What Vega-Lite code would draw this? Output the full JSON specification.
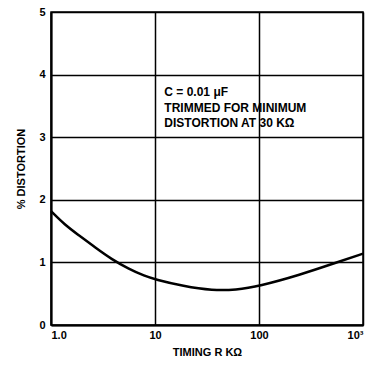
{
  "$schema": "https://vega.github.io/schema/vega-lite/v6.json",
  "width": 312,
  "height": 313,
  "autosize": {"type": "none"},
  "padding": {"left": 51, "top": 12, "right": 10, "bottom": 42},
  "background": "white",
  "config": {
    "view": {"stroke": "black", "strokeWidth": 1.5},
    "font": "Liberation Sans",
    "axis": {
      "domainColor": "black", "domainWidth": 2,
      "gridColor": "black", "gridWidth": 1.5, "gridOpacity": 1,
      "ticks": false,
      "labelFont": "Liberation Sans", "labelFontWeight": "bold", "labelFontSize": 11, "labelColor": "black",
      "titleFont": "Liberation Sans", "titleFontWeight": "bold", "titleFontSize": 11, "titleColor": "black"
    }
  },
  "datasets": {
    "curve": [
      {"r": 1, "d": 1.82},
      {"r": 1.36, "d": 1.6},
      {"r": 1.83, "d": 1.44},
      {"r": 2.65, "d": 1.24},
      {"r": 3.83, "d": 1.05},
      {"r": 5.54, "d": 0.9},
      {"r": 8, "d": 0.78},
      {"r": 10, "d": 0.73},
      {"r": 18.7, "d": 0.62},
      {"r": 36, "d": 0.55},
      {"r": 60, "d": 0.56},
      {"r": 100, "d": 0.62},
      {"r": 247, "d": 0.8},
      {"r": 560, "d": 1.0},
      {"r": 1000, "d": 1.14}
    ],
    "notes": [
      {"r": 12.3, "d": 3.72, "t": "C = 0.01 μF"},
      {"r": 12.3, "d": 3.47, "t": "TRIMMED FOR MINIMUM"},
      {"r": 12.3, "d": 3.23, "t": "DISTORTION AT 30 KΩ"}
    ]
  },
  "layer": [
    {
      "data": {"name": "curve"},
      "mark": {"type": "line", "color": "black", "strokeWidth": 2.5, "interpolate": "basis"},
      "encoding": {
        "x": {
          "field": "r", "type": "quantitative",
          "scale": {"type": "log", "domain": [1, 1000]},
          "axis": {
            "values": [1, 10, 100, 1000],
            "title": "TIMING R KΩ",
            "labelPadding": 4,
            "titlePadding": 6,
            "labelExpr": "datum.value == 1 ? '1.0' : datum.value == 1000 ? '10³' : format(datum.value, 'd')"
          }
        },
        "y": {
          "field": "d", "type": "quantitative",
          "scale": {"domain": [0, 5]},
          "axis": {"values": [0, 1, 2, 3, 4, 5], "format": "d", "title": "% DISTORTION", "labelPadding": 6, "titlePadding": 12}
        }
      }
    },
    {
      "data": {"name": "notes"},
      "mark": {"type": "text", "align": "left", "baseline": "middle", "fontSize": 12, "fontWeight": "bold", "color": "black", "font": "Liberation Sans"},
      "encoding": {
        "x": {"field": "r", "type": "quantitative"},
        "y": {"field": "d", "type": "quantitative"},
        "text": {"field": "t"}
      }
    }
  ]
}
